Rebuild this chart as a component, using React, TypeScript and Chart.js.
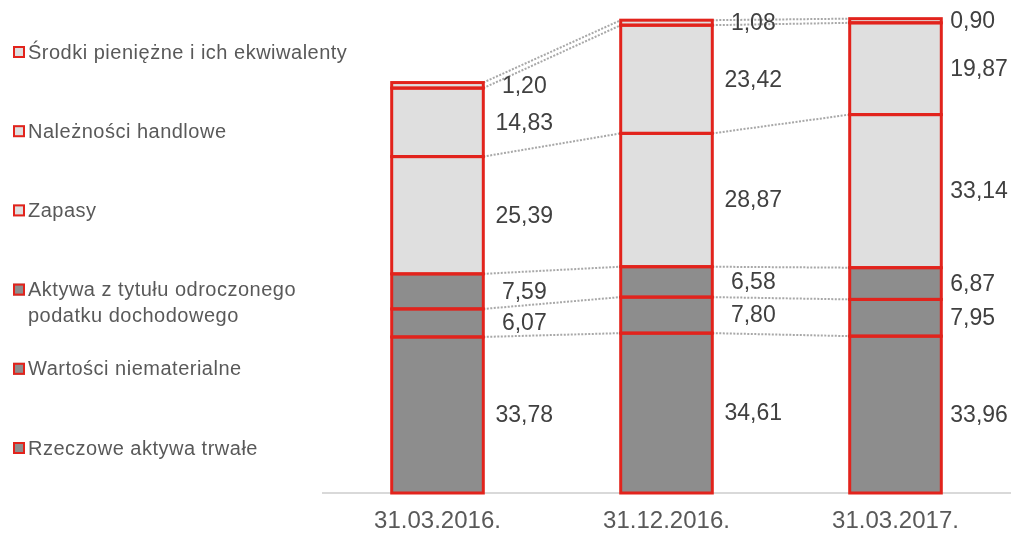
import React, { useEffect, useRef } from "react";
import { Chart, registerables } from "chart.js";

Chart.register(...registerables);

const FONT = "'Liberation Sans', Arial, sans-serif";

const categories = ["31.03.2016.", "31.12.2016.", "31.03.2017."];

// Stack order, bottom to top
const seriesNames = [
  "Rzeczowe aktywa trwałe",
  "Wartości niematerialne",
  "Aktywa z tytułu odroczonego podatku dochodowego",
  "Zapasy",
  "Należności handlowe",
  "Środki pieniężne i ich ekwiwalenty",
];

const rzeczoweAktywaTrwale = [33.78, 34.61, 33.96];
const wartosciNiematerialne = [6.07, 7.8, 7.95];
const aktywaPodatekOdroczony = [7.59, 6.58, 6.87];
const zapasy = [25.39, 28.87, 33.14];
const naleznosciHandlowe = [14.83, 23.42, 19.87];
const srodkiPieniezne = [1.2, 1.08, 0.9];

const seriesValues = [
  rzeczoweAktywaTrwale,
  wartosciNiematerialne,
  aktywaPodatekOdroczony,
  zapasy,
  naleznosciHandlowe,
  srodkiPieniezne,
];

const DARK = "#8d8d8d";
const LIGHT = "#dfdfdf";
const RED = "#e2231c";
const seriesFills = [DARK, DARK, DARK, LIGHT, LIGHT, LIGHT];

const fmt = (v: number) => v.toFixed(2).replace(".", ",");

// Dotted series lines, segment outlines and value labels
const stackDecor = {
  id: "stackDecor",
  afterDatasetsDraw(chart: any) {
    const ctx = chart.ctx as CanvasRenderingContext2D;
    const metas = chart.data.datasets.map((_: any, i: number) => chart.getDatasetMeta(i));
    ctx.save();

    ctx.strokeStyle = "#a8a8a8";
    ctx.lineWidth = 2;
    ctx.setLineDash([2, 1.5]);
    metas.forEach((meta: any) => {
      const els = meta.data;
      for (let j = 0; j < els.length - 1; j++) {
        const a = els[j].getProps(["x", "y", "width"], true);
        const b = els[j + 1].getProps(["x", "y", "width"], true);
        ctx.beginPath();
        ctx.moveTo(a.x + a.width / 2, a.y);
        ctx.lineTo(b.x - b.width / 2, b.y);
        ctx.stroke();
      }
    });
    ctx.setLineDash([]);

    ctx.strokeStyle = RED;
    ctx.lineWidth = 3;
    metas.forEach((meta: any) =>
      meta.data.forEach((el: any) => {
        const p = el.getProps(["x", "y", "base", "width"], true);
        ctx.strokeRect(p.x - p.width / 2, p.y, p.width, p.base - p.y);
      })
    );

    ctx.font = `23px ${FONT}`;
    ctx.fillStyle = "#404040";
    ctx.textBaseline = "middle";
    metas.forEach((meta: any, i: number) =>
      meta.data.forEach((el: any, j: number) => {
        const p = el.getProps(["x", "y", "base", "width"], true);
        const text = fmt(chart.data.datasets[i].data[j]);
        const cy = (p.y + p.base) / 2 + 1;
        const right = p.x + p.width / 2;
        if (j === meta.data.length - 1) {
          ctx.textAlign = "left";
          ctx.fillText(text, right + 9, cy);
        } else {
          ctx.textAlign = "center";
          ctx.fillText(text, right + 41, cy);
        }
      })
    );
    ctx.restore();
  },
};

// Legend on the left, top series first
const sideLegend = {
  id: "sideLegend",
  afterDraw(chart: any) {
    const ctx = chart.ctx as CanvasRenderingContext2D;
    ctx.save();
    ctx.font = `20px ${FONT}`;
    (ctx as any).letterSpacing = "0.5px";
    ctx.textBaseline = "middle";
    ctx.textAlign = "left";
    const maxWidth = 325;
    const ds = chart.data.datasets;
    for (let k = 0; k < ds.length; k++) {
      const i = ds.length - 1 - k;
      const y = 52 + k * 79.2;
      ctx.fillStyle = ds[i].backgroundColor;
      ctx.fillRect(13, y - 6, 12, 12);
      ctx.strokeStyle = RED;
      ctx.lineWidth = 2;
      ctx.strokeRect(14, y - 5, 10, 10);

      const words = String(ds[i].label).split(" ");
      const lines: string[] = [];
      let cur = "";
      words.forEach((w) => {
        const t = cur ? cur + " " + w : w;
        if (cur && ctx.measureText(t).width > maxWidth) {
          lines.push(cur);
          cur = w;
        } else cur = t;
      });
      if (cur) lines.push(cur);
      ctx.fillStyle = "#595959";
      lines.forEach((ln, li) => ctx.fillText(ln, 28, y + 1 + li * 26));
    }
    ctx.restore();
  },
};

export default function App() {
  const ref = useRef<HTMLCanvasElement | null>(null);

  useEffect(() => {
    document.body.style.margin = "0";
    if (!ref.current) return;
    const chart = new Chart(ref.current, {
      type: "bar",
      data: {
        labels: categories,
        datasets: seriesNames.map((name, i) => ({
          label: name,
          data: seriesValues[i],
          backgroundColor: seriesFills[i],
          borderWidth: 0,
          barPercentage: 0.4,
          categoryPercentage: 1,
        })),
      },
      options: {
        responsive: false,
        animation: false,
        events: [],
        layout: { padding: { left: 323, right: 3, top: 8, bottom: 0 } },
        plugins: {
          legend: { display: false },
          tooltip: { enabled: false },
        },
        scales: {
          x: {
            stacked: true,
            grid: { display: false, drawTicks: false, tickLength: 0 },
            border: { display: true, color: "#d9d9d9", width: 2 },
            ticks: {
              color: "#595959",
              padding: 14,
              maxRotation: 0,
              font: { size: 24, family: FONT },
            },
            afterFit(scale: any) {
              scale.height = 42;
            },
          },
          y: {
            stacked: true,
            display: false,
            min: 0,
            max: 105,
          },
        },
      },
      plugins: [stackDecor, sideLegend],
    });
    return () => chart.destroy();
  }, []);

  return <canvas ref={ref} width={1013} height={535} />;
}
